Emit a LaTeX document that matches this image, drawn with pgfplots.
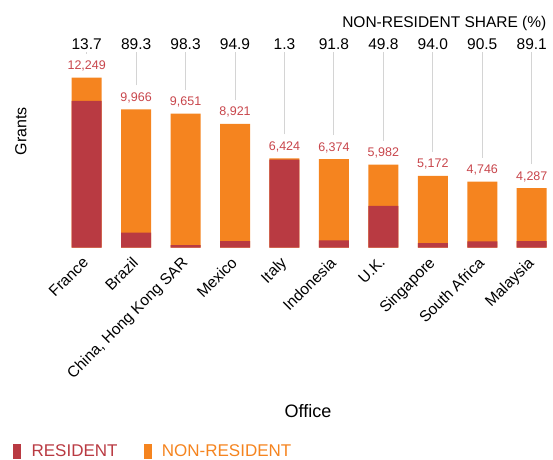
\documentclass[border=0pt]{standalone}
\usepackage{pgfplots}
\pgfplotsset{compat=1.18}
\usepackage{fontspec}
\setmainfont{Liberation Sans}

\definecolor{resid}{RGB}{185,58,66}
\definecolor{nonres}{RGB}{245,132,31}
\definecolor{totc}{RGB}{200,70,76}
\definecolor{linec}{RGB}{212,212,212}

\begin{document}
\begin{tikzpicture}
\path[use as bounding box] (-57pt,-211.5pt) rectangle (496pt,247.5pt);
\begin{axis}[
    at={(0,0)}, anchor=south west,
    scale only axis, width=494.5pt, height=247.5pt,
    xmin=-0.6, xmax=9.4, ymin=0, ymax=17855,
    enlargelimits=false, clip=false,
    axis line style={draw=none}, tick style={draw=none},
    ytick=\empty,
    xtick={0,...,9},
    xticklabels={France,Brazil,{China, Hong Kong SAR},Mexico,Italy,Indonesia,U.K.,Singapore,South Africa,Malaysia},
    xticklabel style={rotate=45, anchor=north east, xshift=-6pt, yshift=1pt,
        font=\fontsize{15.5}{18}\selectfont},
    legend style={at={(axis cs:-1.49,-14681)}, anchor=west, draw=none, fill=none,
        inner sep=0pt, font=\fontsize{17}{20}\selectfont,
        /tikz/every odd column/.append style={column sep=9pt},
        /tikz/every even column/.append style={column sep=24pt}},
    legend columns=2, legend cell align=left,
]
\addlegendimage{legend image code/.code={\fill[resid] (0pt,-7pt) rectangle (7pt,7pt);}}
\addlegendentry{\textcolor{resid}{RESIDENT}}
\addlegendimage{legend image code/.code={\fill[nonres] (0pt,-7pt) rectangle (7pt,7pt);}}
\addlegendentry{\textcolor{nonres}{NON-RESIDENT}}

% total grants (orange), resident part drawn over it
\addplot[ybar, bar width=30pt, bar shift=0pt, fill=nonres, draw=none, forget plot,
    nodes near coords, point meta=explicit symbolic,
    every node near coord/.style={anchor=base, inner sep=0pt, yshift=8pt,
        text=totc, font=\fontsize{12.5}{15}\selectfont}]
coordinates {(0,12249)[12{,}249] (1,9966)[9{,}966] (2,9651)[9{,}651] (3,8921)[8{,}921]
 (4,6424)[6{,}424] (5,6374)[6{,}374] (6,5982)[5{,}982] (7,5172)[5{,}172]
 (8,4746)[4{,}746] (9,4287)[4{,}287]};
\addplot[ybar, bar width=30pt, bar shift=0pt, fill=resid, draw=none, forget plot]
coordinates {(0,10571) (1,1066) (2,164) (3,455) (4,6340) (5,523) (6,3003) (7,310) (8,451) (9,467)};

% connector lines
\addplot[draw=linec, line width=1pt, mark=none, unbounded coords=jump, forget plot]
coordinates {(0,13980) (0,14103) (0,nan) (1,11697) (1,14103) (1,nan)
 (2,11382) (2,14103) (2,nan) (3,10652) (3,14103) (3,nan)
 (4,8155) (4,14103) (4,nan) (5,8105) (5,14103) (5,nan)
 (6,7713) (6,14103) (6,nan) (7,6903) (7,14103) (7,nan)
 (8,6477) (8,14103) (8,nan) (9,6018) (9,14103)};

% non-resident share row
\addplot[draw=none, mark=none, forget plot,
    nodes near coords, point meta=explicit symbolic,
    every node near coord/.style={anchor=base, inner sep=0pt,
        text=black, font=\fontsize{15.5}{18}\selectfont}]
coordinates {(0,14320)[13.7] (1,14320)[89.3] (2,14320)[98.3] (3,14320)[94.9]
 (4,14320)[1.3] (5,14320)[91.8] (6,14320)[49.8] (7,14320)[94.0]
 (8,14320)[90.5] (9,14320)[89.1]};

\node[anchor=base east, inner sep=0pt, font=\fontsize{15.5}{18}\selectfont]
  at (axis cs:9.30,15907) {NON-RESIDENT SHARE (\%)};
\node[rotate=90, font=\fontsize{16}{19}\selectfont] at (axis cs:-1.33,8404) {Grants};
\node[anchor=base, inner sep=0pt, font=\fontsize{18}{21}\selectfont] at (axis cs:4.475,-12228) {Office};
\end{axis}
\end{tikzpicture}
\end{document}
